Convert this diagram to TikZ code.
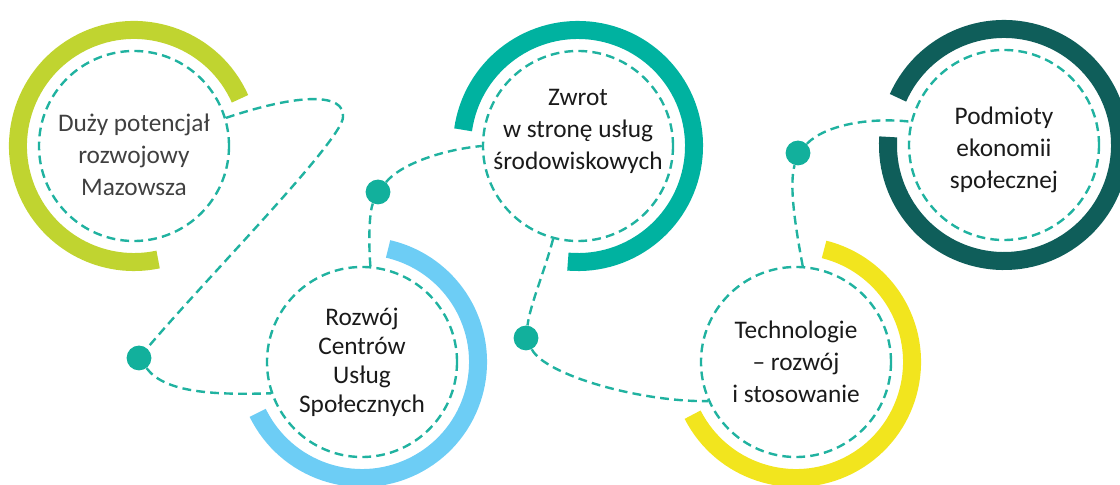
\documentclass[tikz,border=0pt]{standalone}
\usepackage{fontspec}
\setmainfont{Carlito}
\usetikzlibrary{calc}

\definecolor{limering}{RGB}{192,212,48}
\definecolor{skyring}{RGB}{109,205,245}
\definecolor{tealring}{RGB}{0,178,160}
\definecolor{yellowring}{RGB}{242,229,30}
\definecolor{darkring}{RGB}{15,94,90}
\definecolor{dashcol}{RGB}{32,178,160}
\definecolor{dotcol}{RGB}{18,176,156}
\definecolor{txtgray}{RGB}{64,64,64}
\definecolor{txtdark}{RGB}{26,26,26}

\begin{document}
\begin{tikzpicture}[
  x=0.025cm, y=0.025cm,
  ring/.style={line width=0.45cm},
  hub/.style={circle, draw=dashcol, line width=1.7pt, dash pattern=on 0.22cm off 0.13cm,
              minimum size=4.75cm, inner sep=0pt},
  txt/.style={align=center, font=\fontsize{18}{22.8}\selectfont, text=txtdark},
  link/.style={line width=1.7pt, draw=dashcol, dash pattern=on 0.22cm off 0.13cm},
  knot/.style={circle, fill=dotcol, minimum size=0.62cm, inner sep=0pt}
]
  \useasboundingbox (0,0) rectangle (1120,485);

  % dashed circles
  \node[hub] (pot) at (134,339) {};
  \node[hub] (cus) at (362,123) {};
  \node[hub] (zw)  at (578,339) {};
  \node[hub] (tech) at (796,123) {};
  \node[hub] (pes) at (1004,340) {};

  % thick rings
  \draw[ring, limering] (pot) ++(24:2.9cm) arc[start angle=24, end angle=282, radius=2.9cm];
  \draw[ring, skyring] (cus) ++(-154:2.9cm) arc[start angle=-154, end angle=77, radius=2.9cm];
  \draw[ring, tealring] (zw) ++(-95:2.9cm) arc[start angle=-95, end angle=172, radius=2.9cm];
  \draw[ring, yellowring] (tech) ++(-153:2.9cm) arc[start angle=-153, end angle=76, radius=2.9cm];
  \draw[ring, darkring] (pes) ++(176:2.9cm) arc[start angle=176, end angle=516, radius=2.9cm];

  % labels
  \node[txt, text=txtgray] (pot-t) at ([yshift=-0.22cm]pot) {Duży potencjał\\rozwojowy\\Mazowsza};
  \node[txt, font=\fontsize{18}{20.6}\selectfont] (cus-t) at (cus) {Rozwój\\Centrów\\Usług\\Społecznych};
  \node[txt] (zw-t) at ([yshift=0.36cm]zw) {Zwrot\\w stronę usług\\środowiskowych};
  \node[txt] (tech-t) at (tech) {Technologie\\– rozwój\\i stosowanie};
  \node[txt] (pes-t) at ([yshift=-0.12cm]pes) {Podmioty\\ekonomii\\społecznej};

  % dots
  \node[knot] (d1) at (139,127) {};
  \node[knot] (d2) at (378,293) {};
  \node[knot] (d3) at (526,147) {};
  \node[knot] (d4) at (798,332) {};

  % dashed links
  \coordinate (tip) at (343,368);
  \draw[link] (pot.17) .. controls (300,392) and (345,392) .. (tip)
              .. controls (343,345) and (200,200) .. (d1);
  \draw[link] (d1) .. controls (165,92) and (215,90) .. (cus.199);
  \draw[link] (cus.85) .. controls (368,250) and (370,275) .. (d2);
  \draw[link] (d2) .. controls (400,320) and (440,335) .. (zw.180);
  \draw[link] (zw.255) .. controls (545,215) and (530,180) .. (d3);
  \draw[link] (d3) .. controls (545,110) and (640,83) .. (tech.204);
  \draw[link] (tech.86) .. controls (795,260) and (789,300) .. (d4);
  \draw[link] (d4) .. controls (825,360) and (870,368) .. (pes.166);
\end{tikzpicture}
\end{document}
